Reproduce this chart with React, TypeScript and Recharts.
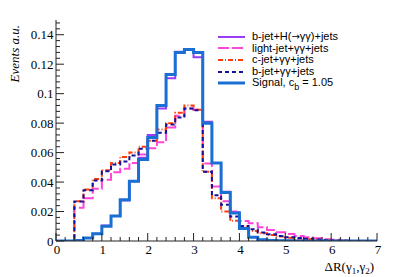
import React from 'react';
import { LineChart, Line, XAxis, YAxis, Legend } from 'recharts';

// bin lower edges (width 0.2) from 0.0 to 7.0
const binEdges: number[] = Array.from({ length: 36 }, (_, i) => Number((i * 0.2).toFixed(1)));

// values per bin (bins starting at 0.0, 0.2, ..., 6.8)
const bjetH = [0, 0, 0.0003, 0.002, 0.005, 0.0105, 0.017, 0.0275, 0.0405, 0.0565, 0.072, 0.090, 0.1105, 0.1285, 0.130, 0.1247, 0.081, 0.053, 0.0335, 0.0195, 0.0088, 0.0027, 0.0009, 0.0003, 0.0002, 0.0001, 0, 0, 0, 0, 0, 0, 0, 0, 0];
const lightJet = [0, 0, 0.0225, 0.029, 0.0355, 0.0416, 0.0466, 0.049, 0.053, 0.0587, 0.063, 0.067, 0.077, 0.085, 0.090, 0.089, 0.0526, 0.037, 0.027, 0.020, 0.0135, 0.012, 0.0093, 0.0075, 0.006, 0.0048, 0.0034, 0.0025, 0.0018, 0.0012, 0.0008, 0.0003, 0, 0, 0];
const cJet = [0, 0, 0.027, 0.035, 0.042, 0.048, 0.053, 0.057, 0.060, 0.064, 0.068, 0.0757, 0.080, 0.087, 0.092, 0.089, 0.047, 0.029, 0.020, 0.0137, 0.0098, 0.0068, 0.0053, 0.004, 0.003, 0.0022, 0.0016, 0.0012, 0.0008, 0.0005, 0.0003, 0.0001, 0, 0, 0];
const bJet = [0, 0, 0.0268, 0.0345, 0.041, 0.0473, 0.052, 0.054, 0.058, 0.0626, 0.068, 0.0735, 0.079, 0.0838, 0.090, 0.0887, 0.047, 0.031, 0.0246, 0.0166, 0.0102, 0.008, 0.0057, 0.0045, 0.0034, 0.0025, 0.002, 0.0015, 0.001, 0.0007, 0.0004, 0.0002, 0, 0, 0];
const signal = [0, 0, 0.0003, 0.002, 0.005, 0.010, 0.017, 0.028, 0.0405, 0.0553, 0.0703, 0.092, 0.113, 0.128, 0.130, 0.128, 0.080, 0.053, 0.033, 0.019, 0.0085, 0.0025, 0.0008, 0.0003, 0.0002, 0.0001, 0, 0, 0, 0, 0, 0, 0, 0, 0];

const xMajorTicks = [0, 1, 2, 3, 4, 5, 6, 7];
const yMajorTicks = [0, 0.02, 0.04, 0.06, 0.08, 0.1, 0.12, 0.14];
const yTickLabels = ['0', '0.02', '0.04', '0.06', '0.08', '0.1', '0.12', '0.14'];

const xTicks: number[] = Array.from({ length: 36 }, (_, i) => Number((i * 0.2).toFixed(1)));
const yTicks: number[] = Array.from({ length: 38 }, (_, i) => Number((i * 0.004).toFixed(3)));

const series = [
  { key: 'bjetH', label: 'b-jet+H(\u2192\u03b3\u03b3)+jets', color: '#9a3cf5', width: 2, dash: undefined as string | undefined, values: bjetH },
  { key: 'light', label: 'light-jet+\u03b3\u03b3+jets', color: '#ff45d8', width: 2, dash: '11 3', values: lightJet },
  { key: 'cjet', label: 'c-jet+\u03b3\u03b3+jets', color: '#ff3d0a', width: 2, dash: '5 2 1 2', values: cJet },
  { key: 'bjet', label: 'b-jet+\u03b3\u03b3+jets', color: '#12129a', width: 2, dash: '4 3', values: bJet },
  { key: 'signal', label: 'Signal', color: '#1a70d2', width: 3, dash: undefined as string | undefined, values: signal },
];

const data = binEdges.map((x, i) => {
  const row: Record<string, number> = { x };
  series.forEach((s) => {
    row[s.key] = i < s.values.length ? s.values[i] : s.values[s.values.length - 1];
  });
  return row;
});

const SERIF = '"Liberation Serif", "Times New Roman", serif';
const SANS = '"Liberation Sans", Arial, sans-serif';
const AXIS = '#222';

const isMajorX = (v: number) => Math.abs(v - Math.round(v)) < 1e-6;
const majorYIndex = (v: number) => yMajorTicks.findIndex((m) => Math.abs(m - v) < 1e-6);

const BottomTick = (props: any) => {
  const { x, y, payload } = props;
  const v = payload.value;
  const major = isMajorX(v);
  return (
    <g>
      <line x1={x} x2={x} y1={y} y2={y - (major ? 8 : 4)} stroke={AXIS} strokeWidth={1} />
      {major && (
        <text x={x + 1} y={y + 13} textAnchor="middle" fontFamily={SERIF} fontSize={13} fill="#000">
          {String(xMajorTicks[Math.round(v)])}
        </text>
      )}
    </g>
  );
};

const TopTick = (props: any) => {
  const { x, y, payload } = props;
  const major = isMajorX(payload.value);
  return <line x1={x} x2={x} y1={y} y2={y + (major ? 8 : 4)} stroke={AXIS} strokeWidth={1} />;
};

const LeftTick = (props: any) => {
  const { x, y, payload } = props;
  const idx = majorYIndex(payload.value);
  const major = idx >= 0;
  return (
    <g>
      <line x1={x} x2={x + (major ? 8 : 4)} y1={y} y2={y} stroke={AXIS} strokeWidth={1} />
      {major && (
        <text x={x - 2.5} y={y} dy="0.35em" textAnchor="end" fontFamily={SERIF} fontSize={13} fill="#000">
          {yTickLabels[idx]}
        </text>
      )}
    </g>
  );
};

const RightTick = (props: any) => {
  const { x, y, payload } = props;
  const major = majorYIndex(payload.value) >= 0;
  return <line x1={x} x2={x - (major ? 8 : 4)} y1={y} y2={y} stroke={AXIS} strokeWidth={1} />;
};

const YTitle = (props: any) => {
  const vb = props.viewBox || { x: 0, y: 20, width: 56, height: 221 };
  const tx = vb.x + 19;
  const ty = vb.y + 5;
  return (
    <text x={tx} y={ty} transform={`rotate(-90 ${tx} ${ty})`} textAnchor="end" fontFamily={SERIF} fontStyle="italic" fontSize={13} fill="#000">
      Events a.u.
    </text>
  );
};

const XTitle = (props: any) => {
  const vb = props.viewBox || { x: 56, y: 241, width: 321, height: 36 };
  const tx = vb.x + vb.width - 3;
  const ty = vb.y + 30;
  return (
    <text x={tx} y={ty} textAnchor="end" fontFamily={SERIF} fontSize={13} fill="#000">
      <tspan>{'\u0394R(\u03b3'}</tspan>
      <tspan dy={3} fontSize={9}>1</tspan>
      <tspan dy={-3}>{',\u03b3'}</tspan>
      <tspan dy={3} fontSize={9}>2</tspan>
      <tspan dy={-3}>)</tspan>
    </text>
  );
};

const renderLabel = (key: string, label: string) => {
  if (key === 'signal') {
    return (
      <>
        Signal, c<span style={{ fontSize: 9, position: 'relative', top: 4 }}>b</span> = 1.05
      </>
    );
  }
  if (key === 'bjetH') {
    const parts = label.split('\u2192');
    return (
      <>
        {parts[0]}
        <span style={{ fontFamily: '"DejaVu Sans", sans-serif', fontSize: 10 }}>{'\u2192'}</span>
        {parts[1]}
      </>
    );
  }
  return label;
};

const LegendBox = () => (
  <div style={{ fontFamily: SANS, fontSize: 11, color: '#000' }}>
    {series.map((s) => (
      <div key={s.key} style={{ display: 'flex', alignItems: 'center', height: 11.6, whiteSpace: 'nowrap' }}>
        <svg width={28} height={8} style={{ display: 'block' }}>
          <line x1={0} x2={27} y1={4} y2={4} stroke={s.color} strokeWidth={s.width} strokeDasharray={s.dash} />
        </svg>
        <span style={{ marginLeft: 6, lineHeight: '11px' }}>{renderLabel(s.key, s.label)}</span>
      </div>
    ))}
  </div>
);

export default function App() {
  return (
    <div style={{ position: 'absolute', left: 0, top: 0, background: '#fff' }}>
      <LineChart width={400} height={277} data={data} margin={{ top: 20, right: 23, left: 0, bottom: 0 }}>
        <XAxis
          dataKey="x"
          type="number"
          domain={[0, 7]}
          ticks={xTicks}
          interval={0}
          allowDataOverflow
          height={36}
          tickLine={false}
          tickSize={0}
          tickMargin={0}
          axisLine={{ stroke: AXIS }}
          tick={BottomTick}
          label={<XTitle />}
        />
        <XAxis
          xAxisId="top"
          orientation="top"
          type="number"
          domain={[0, 7]}
          ticks={xTicks}
          interval={0}
          allowDataOverflow
          height={0}
          tickLine={false}
          tickSize={0}
          tickMargin={0}
          axisLine={{ stroke: AXIS }}
          tick={TopTick}
        />
        <YAxis
          type="number"
          domain={[0, 0.15]}
          ticks={yTicks}
          interval={0}
          allowDataOverflow
          width={56}
          tickLine={false}
          tickSize={0}
          tickMargin={0}
          axisLine={{ stroke: AXIS }}
          tick={LeftTick}
          label={<YTitle />}
        />
        <YAxis
          yAxisId="right"
          orientation="right"
          type="number"
          domain={[0, 0.15]}
          ticks={yTicks}
          interval={0}
          allowDataOverflow
          width={0}
          tickLine={false}
          tickSize={0}
          tickMargin={0}
          axisLine={{ stroke: AXIS }}
          tick={RightTick}
        />
        {series.map((s) => (
          <Line
            key={s.key}
            dataKey={s.key}
            type="stepAfter"
            stroke={s.color}
            strokeWidth={s.width}
            strokeDasharray={s.dash}
            dot={false}
            activeDot={false}
            isAnimationActive={false}
          />
        ))}
        <Legend
          layout="horizontal"
          align="center"
          verticalAlign="middle"
          content={<LegendBox />}
          wrapperStyle={{ left: 218, top: 31, width: 'auto', height: 'auto' }}
        />
      </LineChart>
    </div>
  );
}
